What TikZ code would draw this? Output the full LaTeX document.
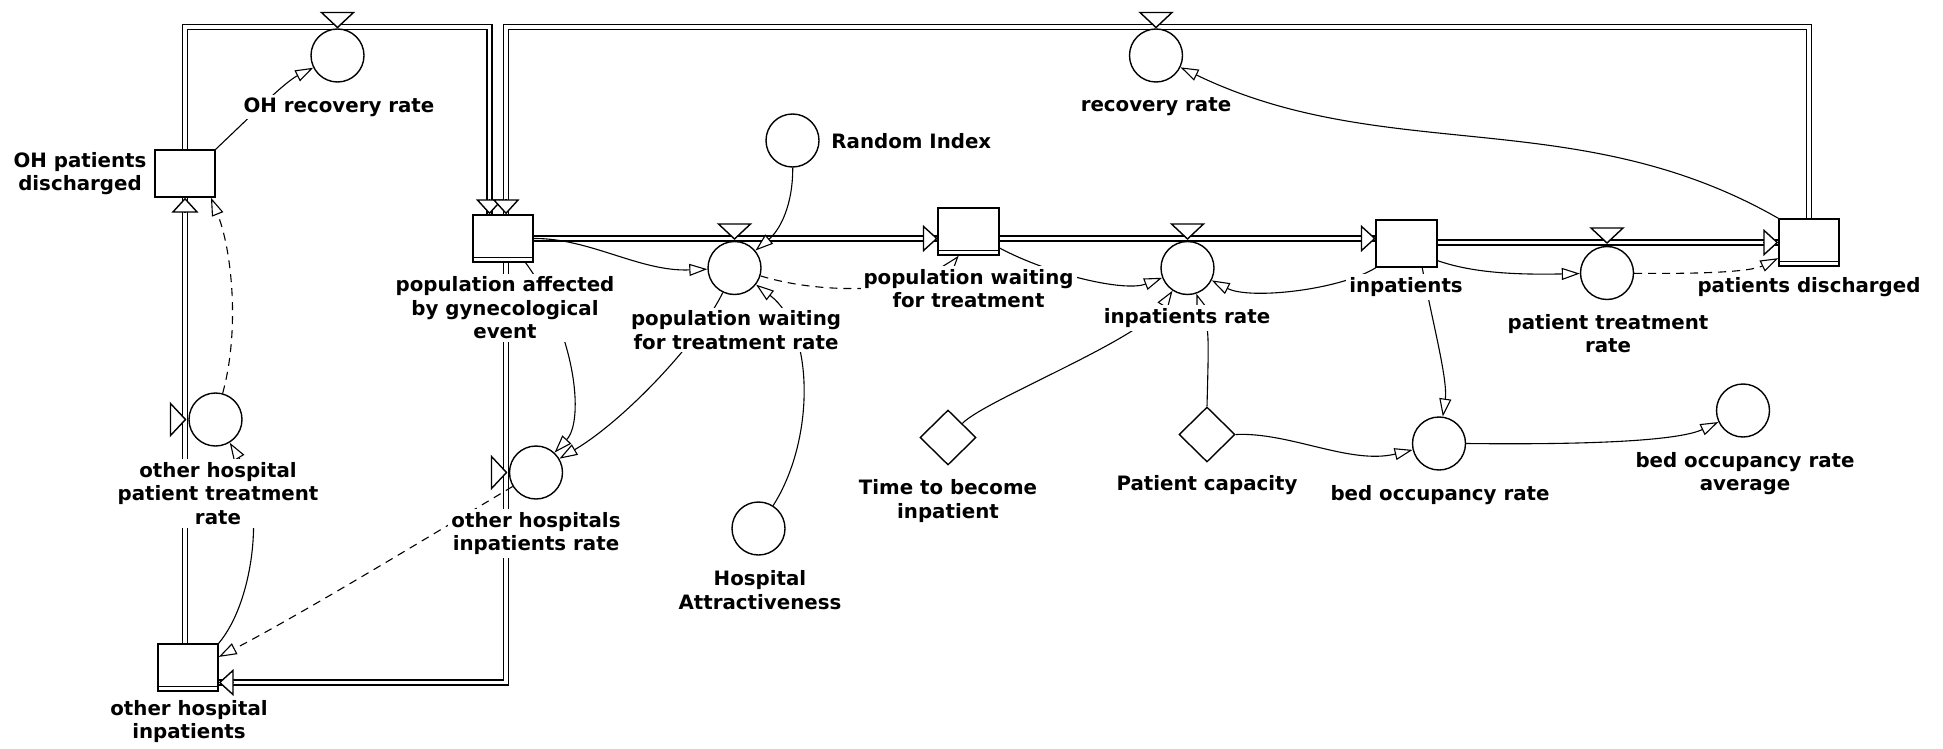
\documentclass[tikz,border=0pt]{standalone}
\usepackage{fontspec}
\setmainfont{DejaVu Sans}
\usetikzlibrary{arrows.meta,shapes.geometric}

\begin{document}
\begin{tikzpicture}[x=0.5pt,y=-0.5pt,
  stock/.style={draw,fill=white,line width=0.7pt,minimum width=30pt,minimum height=23.5pt,inner sep=0pt},
  aux/.style={draw,fill=white,circle,line width=0.7pt,minimum size=26.5pt,inner sep=0pt},
  const/.style={draw,fill=white,diamond,line width=0.7pt,minimum width=28pt,minimum height=27.5pt,inner sep=0pt},
  lbl/.style={fill=white,inner sep=1.5pt,align=center,font=\bfseries\fontsize{9.9}{11.7}\selectfont},
  pipe/.style={line width=0.6pt,double=white,double distance=1.9pt,line join=miter},
  pipehead/.style={line width=0.7pt,-{Triangle[length=7.5pt,width=13.5pt,fill=white]}},
  valve/.style={draw,fill=white,line width=0.7pt,line join=miter},
  link/.style={line width=0.55pt,-{Triangle[length=9pt,width=6pt,fill=white]}},
  dlink/.style={link,dash pattern=on 4pt off 3pt},
]
\useasboundingbox (0,0) rectangle (1943,749);

% stocks
\node[stock] (ohpd) at (185,173.5) {};
\node[stock] (paff) at (503,238.5) {};
\node[stock] (pwt)  at (968.5,231.5) {};
\node[stock] (inp)  at (1406.5,243.5) {};
\node[stock] (pdis) at (1809,242.5) {};
\node[stock] (ohi)  at (188,667.5) {};

% pipe corners
\coordinate (c1) at (185,26.7);
\coordinate (c2) at (489.5,26.7);
\coordinate (c3) at (1809,26.7);
\coordinate (c4) at (506,26.7);
\coordinate (b1) at (506,682.5);
\coordinate (t1) at (c2 |- paff.north);
\coordinate (t2) at (c4 |- paff.north);
\coordinate (t3) at (paff.east -| pwt.west);
\coordinate (t4) at (paff.east -| inp.west);
\coordinate (t5) at (inp.east |- pdis.west);
\coordinate (t6) at (b1 -| ohi.east);
\coordinate (t7) at (ohpd.south -| c1);

% flow pipes
\draw[pipe] (ohpd.north) -- (c1) -- (c2) -- (t1);
\draw[pipe] (pdis.north) -- (c3) -- (c4) -- (t2);
\draw[pipe] (paff.east) -- (t3);
\draw[pipe] (paff.east -| pwt.east) -- (t4);
\draw[pipe] (t5) -- (pdis.west);
\draw[pipe] (paff.south -| b1) -- (b1) -- (t6);
\draw[pipe] (ohi.north -| c1) -- (t7);

% stock outlines over the pipe ends
\foreach \s in {ohpd,paff,pwt,inp,pdis,ohi} \draw[line width=0.7pt] (\s.south west) rectangle (\s.north east);
\foreach \s in {paff,pwt,pdis,ohi} \draw[line width=0.7pt] ([yshift=2.5pt]\s.south west) -- ([yshift=2.5pt]\s.south east);

% pipe heads
\draw[pipehead] ([yshift=7.5pt]t1) -- (t1);
\draw[pipehead] ([yshift=7.5pt]t2) -- (t2);
\draw[pipehead] ([xshift=-7.5pt]t3) -- (t3);
\draw[pipehead] ([xshift=-7.5pt]t4) -- (t4);
\draw[pipehead] ([xshift=-7.5pt]pdis.west) -- (pdis.west);
\draw[pipehead] ([xshift=7.5pt]t6) -- (t6);
\draw[pipehead] ([yshift=-7.5pt]t7) -- (t7);

% valves
\draw[valve] (337.5,27.5) -- ++(-16,-15) -- ++(32,0) -- cycle;
\draw[valve] (1156,27.5) -- ++(-16,-15) -- ++(32,0) -- cycle;
\draw[valve] (734.5,239) -- ++(-16,-15) -- ++(32,0) -- cycle;
\draw[valve] (1187.5,239) -- ++(-16,-15) -- ++(32,0) -- cycle;
\draw[valve] (1607,243) -- ++(-16,-15) -- ++(32,0) -- cycle;
\draw[valve] (185.5,419.5) -- ++(-15,-16) -- ++(0,32) -- cycle;
\draw[valve] (506.5,472.5) -- ++(-15,-16) -- ++(0,32) -- cycle;

% auxiliaries
\node[aux] (ohrr)  at (337.5,55.5) {};
\node[aux] (rr)    at (1156,55.5) {};
\node[aux] (ri)    at (792.5,140.5) {};
\node[aux] (pwtr)  at (734.5,268) {};
\node[aux] (irate) at (1187.5,268) {};
\node[aux] (ptr)   at (1607,273) {};
\node[aux] (ohptr) at (215.5,419.5) {};
\node[aux] (ohir)  at (536,472.5) {};
\node[aux] (ha)    at (758.5,528.5) {};
\node[aux] (bor)   at (1439,443.5) {};
\node[aux] (bora)  at (1743,410.5) {};

% constants
\node[const] (tbi) at (948,437.5) {};
\node[const] (pc)  at (1207,434.5) {};

% links
\draw[link] (ohpd.north east) .. controls (255,112) and (285,82) .. (ohrr);
\draw[link] (pdis.north west) .. controls (1577,103) and (1385,166) .. (rr);
\draw[link] (ri) .. controls (793,205) and (780,230) .. (pwtr);
\draw[link] (paff.east) .. controls (590,238) and (640,272) .. (pwtr);
\draw[link] (ha) .. controls (815,440) and (815,330) .. (pwtr);
\draw[dlink] (pwtr) .. controls (840,300) and (935,285) .. (pwt.-112);
\draw[link] (pwt.-28) .. controls (1050,275) and (1125,292) .. (irate);
\draw[link] (inp.south west) .. controls (1340,290) and (1250,300) .. (irate);
\draw[link] (tbi.north east) .. controls (985,400) and (1140,340) .. (irate);
\draw[link] (pc.north) .. controls (1209,330) .. (irate);
\draw[link] (pc.east) .. controls (1290,432) and (1350,465) .. (bor);
\draw[link] (inp.-57) .. controls (1432,320) and (1448,380) .. (bor);
\draw[link] (bor.east) .. controls (1600,445) and (1680,440) .. (bora);
\draw[link] (inp.-29) .. controls (1470,272) and (1510,275) .. (ptr);
\draw[dlink] (ptr) .. controls (1700,274) and (1750,272) .. (pdis.-153);
\draw[dlink] (ohptr) .. controls (240,330) and (232,250) .. (ohpd.-43);
\draw[link] (ohi.north east) .. controls (255,600) and (265,500) .. (ohptr);
\draw[dlink] (ohir) .. controls (440,530) and (300,615) .. (ohi.19);
\draw[link] (paff.-47) .. controls (575,330) and (585,420) .. (ohir);
\draw[link] (pwtr) .. controls (700,340) and (625,420) .. (ohir);

% labels
\node[lbl] (l-ohrr)  at (339,107) {OH recovery rate};
\node[lbl] (l-rr)    at (1156,107) {recovery rate};
\node[lbl] (l-ohpd)  at (80,173.5) {OH patients\\discharged};
\node[lbl] (l-paff)  at (505,308) {population affected\\by gynecological\\event};
\node[lbl] (l-pwt)   at (968.5,288.5) {population waiting\\for treatment};
\node[lbl] (l-inp)   at (1406,287) {inpatients};
\node[lbl] (l-pdis)  at (1809,287) {patients discharged};
\node[lbl] (l-ohi)   at (189,721.5) {other hospital\\inpatients};
\node[lbl,anchor=west] (l-ri) at (828,141) {Random Index};
\node[lbl] (l-pwtr)  at (736,330) {population waiting\\for treatment rate};
\node[lbl] (l-irate) at (1187,318) {inpatients rate};
\node[lbl] (l-ptr)   at (1608,333.5) {patient treatment\\rate};
\node[lbl] (l-ohptr) at (218,493.5) {other hospital\\patient treatment\\rate};
\node[lbl] (l-ohir)  at (536,533.5) {other hospitals\\inpatients rate};
\node[lbl] (l-ha)    at (760,590) {Hospital\\Attractiveness};
\node[lbl] (l-tbi)   at (948,501) {Time to become\\inpatient};
\node[lbl] (l-pc)    at (1207,485) {Patient capacity};
\node[lbl] (l-bor)   at (1440,495) {bed occupancy rate};
\node[lbl] (l-bora)  at (1745,473.5) {bed occupancy rate\\average};
\end{tikzpicture}
\end{document}
